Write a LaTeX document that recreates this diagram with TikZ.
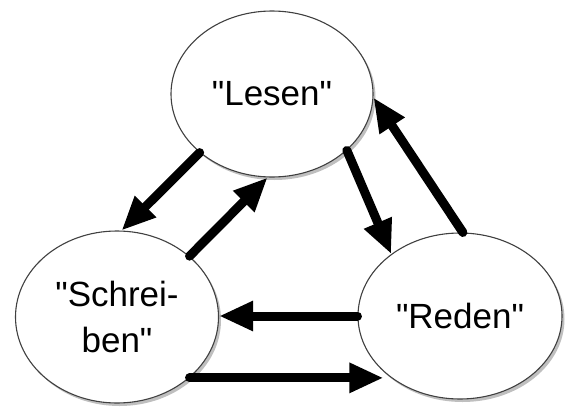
\documentclass[tikz,border=0pt]{standalone}
\usepackage{fontspec}
\setmainfont{Liberation Sans}[Ligatures=TeXOff]
\usetikzlibrary{shapes.geometric,arrows.meta,shadows}
\tikzset{
  bubble/.style={ellipse, draw=black!75, line width=1.1pt, fill=white, inner sep=0pt,
    drop shadow={shadow xshift=2.5pt, shadow yshift=-3pt, opacity=0.25, fill=black},
    font=\fontsize{35}{46}\selectfont, align=center},
  flow/.style={line width=9pt, line cap=round, -{Triangle[length=34pt,width=28pt]}}
}
\begin{document}
\begin{tikzpicture}[x=1pt,y=-1pt]
\useasboundingbox (0,0) rectangle (565,407);
\node[bubble, minimum width=202pt, minimum height=166pt] (L) at (272,94) {"Lesen"};
\node[bubble, minimum width=203pt, minimum height=172pt] (S) at (117,317) {"Schrei-\\ben"};
\node[bubble, minimum width=204pt, minimum height=166pt] (R) at (460,316) {"Reden"};
\draw[flow] (L.-141) -- (S.87);
\draw[flow] (S.40) -- (L.-93);
\draw[flow] (L.-37) -- (R.138);
\draw[flow] (R.88) -- (L.-2);
\draw[flow] (R.180) -- (R.180 -| S.0);
\draw[flow] (S.-40) -- (S.-40 -| R.-144);
\end{tikzpicture}
\end{document}
